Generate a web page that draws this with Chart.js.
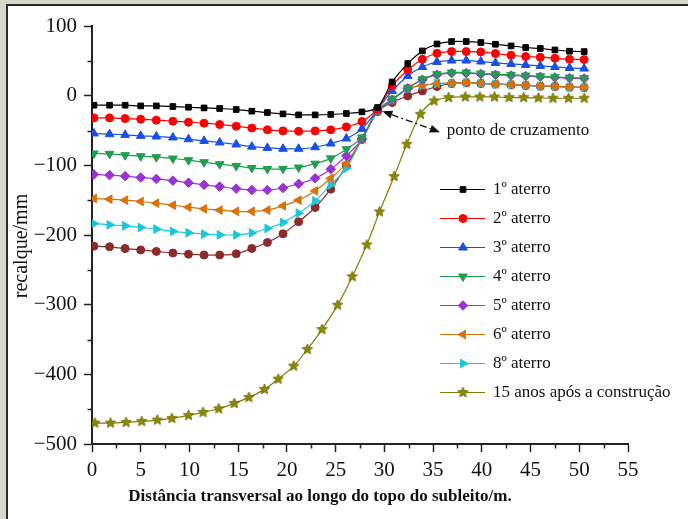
<!DOCTYPE html>
<html>
<head>
    <title>Recalque ao longo do topo do subleito</title>
    <script src="https://cdn.jsdelivr.net/npm/chart.js"></script>
    <style>
        body { margin: 0; background: #d6d8cd; }
        #panel {
            position: absolute; left: 6px; top: 4px; width: 682px; height: 515px;
            background: #fff; border-left: 2px solid #2a2a2a; border-top: 2px solid #2a2a2a;
            box-sizing: border-box;
        }
        #chartContainer { position: absolute; left: 0; top: 0; width: 688px; height: 519px; }
    </style>
</head>
<body>
    <div id="panel"></div>
    <div id="chartContainer">
        <canvas id="myChart" width="688" height="519"></canvas>
    </div>

    <script>
      // distancia (m) dos pontos das etapas de aterro
      const xs = [0.2, 1.8, 3.4, 5.0, 6.6, 8.3, 9.9, 11.5, 13.1, 14.8, 16.4, 18.0, 19.6, 21.2, 22.9, 24.5, 26.1, 27.7, 29.3,
                  30.8, 32.4, 33.9, 35.4, 36.9, 38.4, 39.9, 41.4, 43.0, 44.5, 46.0, 47.5, 49.0, 50.5];
      // distancia (m) dos pontos da curva de 15 anos
      const starX = [0.3, 1.9, 3.5, 5.1, 6.7, 8.2, 9.9, 11.4, 13.0, 14.6, 16.1, 17.7, 19.1, 20.7, 22.1, 23.6, 25.2, 26.7,
                     28.2, 29.5, 31.0, 32.3, 33.7, 35.1, 36.6, 38.3, 39.8, 41.3, 42.8, 44.3, 45.8, 47.3, 48.9, 50.5];

      const aterro1 = [-13.7, -13.7, -13.7, -14.7, -14.7, -15.6, -16.6, -17.6, -18.4, -19.9, -22.3, -24.2, -26.2, -27.6, -27.6, -27.0, -25.6, -23.3, -17.0,
                       19.7, 46.1, 64.2, 74.2, 77.7, 77.7, 76.3, 73.8, 71.4, 69.1, 67.7, 65.6, 63.8, 63.3];
      const aterro2 = [-31.9, -31.9, -32.8, -33.8, -35.2, -36.7, -38.1, -39.5, -41.4, -43.8, -46.5, -49.0, -50.6, -51.2, -50.6, -49.1, -44.8, -37.1, -19.0,
                       14.0, 36.9, 52.3, 60.9, 63.3, 63.3, 62.8, 60.5, 58.0, 56.2, 55.2, 53.7, 52.3, 51.9];
      const aterro3 = [-54.3, -55.3, -56.3, -57.7, -58.6, -60.0, -62.5, -64.9, -67.2, -70.1, -73.2, -75.0, -76.2, -76.2, -74.0, -68.7, -61.5, -47.6, -20.0,
                       6.8, 28.3, 41.2, 48.4, 50.4, 50.4, 49.0, 47.0, 45.6, 44.1, 42.7, 41.2, 39.8, 38.9];
      const aterro4 = [-83.0, -83.5, -85.4, -86.9, -88.3, -90.2, -92.6, -95.5, -98.4, -100.8, -103.8, -105.2, -105.0, -103.1, -97.6, -90.0, -76.8, -60.0, -21.0,
                       -5.1, 11.1, 23.6, 30.8, 33.2, 33.2, 31.8, 30.8, 29.8, 28.9, 27.9, 26.9, 26.0, 25.4];
      const aterro5 = [-113.0, -114.0, -115.5, -117.5, -119.5, -122.0, -125.0, -128.0, -130.5, -133.5, -135.5, -135.5, -132.5, -126.5, -118.5, -105.5, -86.4, -62.5, -22.0,
                       -6.0, 10.4, 22.8, 30.0, 32.4, 32.4, 31.0, 30.0, 29.0, 28.1, 27.1, 26.1, 25.2, 24.6];
      const aterro6 = [-147.6, -148.6, -150.0, -151.9, -154.3, -157.2, -160.1, -162.5, -164.3, -166.0, -166.2, -164.3, -158.2, -150.0, -136.7, -118.6, -97.0, -61.0, -22.0,
                       -6.0, 10.0, 15.0, 17.5, 17.9, 18.9, 17.9, 16.9, 16.0, 15.0, 14.0, 13.6, 12.6, 12.1];
      const aterro8 = [-183.5, -185.4, -186.8, -189.2, -191.6, -194.9, -196.9, -198.8, -199.8, -199.8, -197.0, -190.6, -182.0, -168.7, -151.0, -128.0, -104.0, -62.5, -23.0,
                       -6.0, 10.0, 14.8, 17.3, 17.6, 18.6, 17.6, 16.6, 15.7, 14.7, 13.7, 13.3, 12.3, 11.8];
      // curva sem entrada na legenda (marrom)
      const aterroExtra = [-216.0, -217.0, -219.5, -221.5, -223.6, -225.8, -227.5, -228.7, -228.7, -227.0, -219.3, -210.7, -198.3, -181.0, -160.5, -134.2, -100.8, -63.0, -23.0,
                           -9.8, -0.4, 6.8, 13.1, 17.5, 18.5, 17.5, 16.5, 15.6, 14.6, 13.6, 13.2, 12.2, 11.7];
      const anos15 = [-469.9, -469.9, -468.9, -467.5, -465.6, -463.2, -458.9, -454.6, -449.4, -441.7, -433.1, -421.6, -406.8, -388.2, -364.2, -335.5, -300.6, -259.8,
                      -214.1, -166.8, -116.0, -69.7, -26.6, -7.5, -2.7, -1.8, -1.8, -1.8, -2.7, -2.7, -3.2, -3.7, -3.7, -3.7];

      const seriesNames = ['1º aterro', '2º aterro', '3º aterro', '4º aterro', '5º aterro', '6º aterro', '8º aterro', '15 anos após a construção'];
      const xTicks = [0, 5, 10, 15, 20, 25, 30, 35, 40, 45, 50, 55];
      const yTicks = [100, 0, -100, -200, -300, -400, -500];

      const serif = '"Liberation Serif", "DejaVu Serif", serif';

      function pts(xv, yv) {
          return yv.map((v, i) => ({ x: xv[i], y: v }));
      }

      // estrela cheia para o marcador
      function makeStar(r, fill, stroke) {
          const c = document.createElement('canvas');
          const s = Math.ceil(r * 2 + 2);
          c.width = s; c.height = s;
          const g = c.getContext('2d');
          g.beginPath();
          for (let i = 0; i < 10; i++) {
              const a = -Math.PI / 2 + i * Math.PI / 5;
              const rr = i % 2 ? r * 0.45 : r;
              g.lineTo(s / 2 + rr * Math.cos(a), s / 2 + rr * Math.sin(a));
          }
          g.closePath();
          g.fillStyle = fill; g.fill();
          g.strokeStyle = stroke; g.lineWidth = 0.8; g.stroke();
          return c;
      }
      const starImg = makeStar(5.5, '#8a8a00', '#6b6b00');

      function ds(label, xv, yv, color, style, radius, rotation) {
          return {
              label: label,
              data: pts(xv, yv),
              borderColor: color,
              backgroundColor: color,
              borderWidth: 1.2,
              pointStyle: style,
              pointRadius: radius,
              pointRotation: rotation || 0,
              pointBorderWidth: 1,
              pointBorderColor: color,
              pointBackgroundColor: color,
              tension: 0.3
          };
      }

      const datasets = [
          ds(seriesNames[0], xs, aterro1, '#000000', 'rect', 4),
          ds(seriesNames[1], xs, aterro2, '#ff0000', 'circle', 4),
          ds(seriesNames[2], xs, aterro3, '#1a4fe6', 'triangle', 5),
          ds(seriesNames[3], xs, aterro4, '#1f9e4f', 'triangle', 5, 180),
          ds(seriesNames[4], xs, aterro5, '#9a33d6', 'rectRot', 4.8),
          ds(seriesNames[5], xs, aterro6, '#d9720b', 'triangle', 5, -90),
          ds(seriesNames[6], xs, aterro8, '#1cc6d9', 'triangle', 5, 90),
          ds(seriesNames[7], starX, anos15, '#808000', starImg, 5.5),
          ds('', xs, aterroExtra, '#8b2b2b', 'circle', 4)
      ];

      function drawMarker(ctx, d, px, py) {
          const opts = {
              pointStyle: d.pointStyle, radius: d.pointRadius, rotation: d.pointRotation,
              borderWidth: d.pointBorderWidth
          };
          ctx.fillStyle = d.pointBackgroundColor;
          ctx.strokeStyle = d.pointBorderColor;
          ctx.lineWidth = d.pointBorderWidth;
          Chart.helpers.drawPoint(ctx, opts, px, py);
      }

      const extras = {
          id: 'extras',
          afterDraw(chart) {
              const ctx = chart.ctx;
              const x = chart.scales.x, y = chart.scales.y;
              const area = chart.chartArea;
              ctx.save();

              // marcas menores
              ctx.strokeStyle = '#222';
              ctx.lineWidth = 1.5;
              ctx.beginPath();
              for (let v = -450; v < 100; v += 100) {
                  const py = Math.round(y.getPixelForValue(v)) + 0.5;
                  ctx.moveTo(area.left - 4.5, py); ctx.lineTo(area.left, py);
              }
              for (let v = 2.5; v < 55; v += 5) {
                  const px = Math.round(x.getPixelForValue(v)) + 0.5;
                  ctx.moveTo(px, area.bottom); ctx.lineTo(px, area.bottom + 4.5);
              }
              ctx.stroke();

              // titulos dos eixos
              ctx.fillStyle = '#111';
              ctx.textAlign = 'center';
              ctx.textBaseline = 'middle';
              ctx.font = 'bold 17px ' + serif;
              ctx.fillText('Distância transversal ao longo do topo do subleito/m.', 320, 497);
              ctx.save();
              ctx.translate(22, 246);
              ctx.rotate(-Math.PI / 2);
              ctx.font = '20px ' + serif;
              ctx.fillText('recalque/mm', 0, 0);
              ctx.restore();

              // seta do ponto de cruzamento
              const tx = x.getPixelForValue(29.8), ty = y.getPixelForValue(-22.3);
              const ex = x.getPixelForValue(35.7), ey = y.getPixelForValue(-52.4);
              const ang = Math.atan2(ey - ty, ex - tx);
              const head = 10, half = 4;
              ctx.strokeStyle = '#111';
              ctx.lineWidth = 1.3;
              ctx.setLineDash([7, 3, 2, 3]);
              ctx.beginPath();
              ctx.moveTo(tx + Math.cos(ang) * head, ty + Math.sin(ang) * head);
              ctx.lineTo(ex - Math.cos(ang) * head, ey - Math.sin(ang) * head);
              ctx.stroke();
              ctx.setLineDash([]);
              function arrowHead(hx, hy, a) {
                  ctx.beginPath();
                  ctx.moveTo(hx, hy);
                  ctx.lineTo(hx - Math.cos(a) * head - Math.sin(a) * half, hy - Math.sin(a) * head + Math.cos(a) * half);
                  ctx.lineTo(hx - Math.cos(a) * head + Math.sin(a) * half, hy - Math.sin(a) * head - Math.cos(a) * half);
                  ctx.closePath();
                  ctx.fillStyle = '#111';
                  ctx.fill();
              }
              arrowHead(tx, ty, ang + Math.PI);
              arrowHead(ex, ey, ang);
              ctx.font = '17px ' + serif;
              ctx.textAlign = 'left';
              ctx.fillText('ponto de cruzamento', x.getPixelForValue(36.4), y.getPixelForValue(-50));

              // legenda
              const lx0 = 440, lx1 = 485, mx = 463, tx0 = 493, row0 = 189.5, rowH = 29;
              ctx.font = '17px ' + serif;
              for (let i = 0; i < 8; i++) {
                  const d = chart.data.datasets[i];
                  const ry = row0 + i * rowH;
                  ctx.strokeStyle = d.borderColor;
                  ctx.lineWidth = 1.2;
                  ctx.beginPath();
                  ctx.moveTo(lx0, ry); ctx.lineTo(lx1, ry);
                  ctx.stroke();
                  drawMarker(ctx, d, mx, ry);
                  ctx.fillStyle = '#111';
                  ctx.fillText(d.label, tx0, ry);
              }
              ctx.restore();
          }
      };

      const config = {
          type: 'line',
          data: { datasets: datasets },
          options: {
              responsive: false,
              animation: false,
              layout: { padding: { left: 0, top: 26, right: 60, bottom: 0 } },
              plugins: { legend: { display: false }, tooltip: { enabled: false } },
              scales: {
                  x: {
                      type: 'linear',
                      min: 0, max: 55,
                      afterBuildTicks: (scale) => { scale.ticks = xTicks.map(v => ({ value: v })); },
                      afterFit: (scale) => { scale.height = 75; },
                      ticks: { color: '#111', font: { family: serif, size: 21 }, padding: 6, maxRotation: 0 },
                      grid: { drawOnChartArea: false, tickLength: 8, tickColor: '#222', tickWidth: 1.5 },
                      border: { color: '#222', width: 2 }
                  },
                  y: {
                      min: -500, max: 100,
                      afterBuildTicks: (scale) => { scale.ticks = yTicks.map(v => ({ value: v })); },
                      afterFit: (scale) => { scale.width = 92; },
                      ticks: {
                          color: '#111', font: { family: serif, size: 21 }, padding: 7,
                          callback: (v) => v < 0 ? '\u2212' + Math.abs(v) : String(v)
                      },
                      grid: { drawOnChartArea: false, tickLength: 8, tickColor: '#222', tickWidth: 1.5 },
                      border: { color: '#222', width: 2 }
                  }
              }
          },
          plugins: [extras]
      };

      const myChart = new Chart(document.getElementById('myChart'), config);
    </script>
</body>
</html>
